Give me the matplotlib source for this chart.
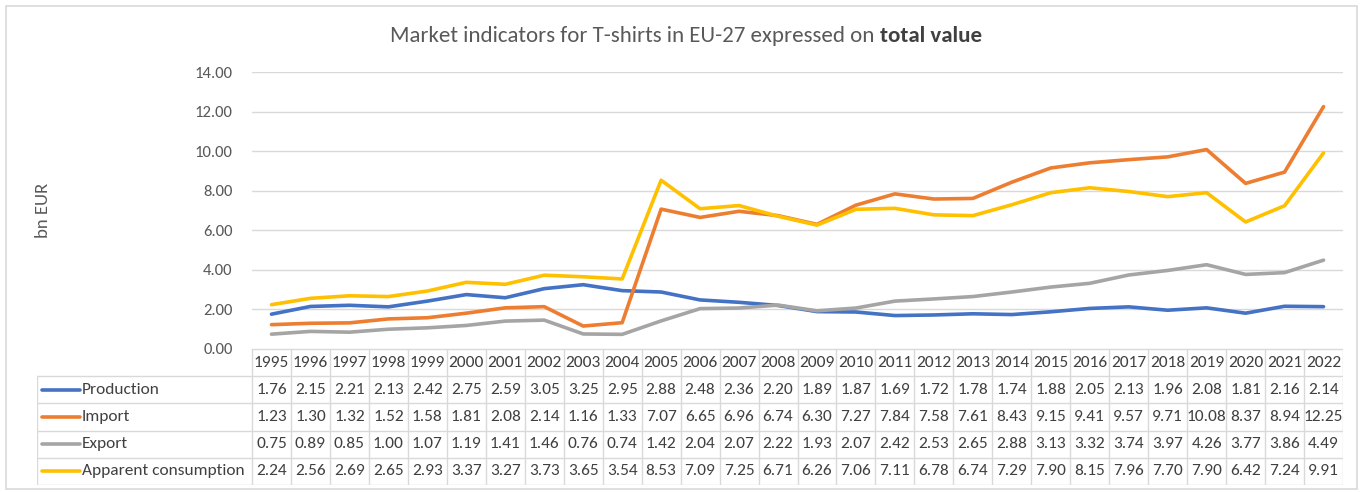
import matplotlib
matplotlib.use("Agg")
import matplotlib.pyplot as plt
from matplotlib.patches import Rectangle

plt.rcParams['font.family'] = ['Carlito', 'Liberation Sans Narrow', 'DejaVu Sans']

# Data (bn EUR).
years = [str(y) for y in range(1995, 2023)]
production = [1.76, 2.15, 2.21, 2.13, 2.42, 2.75, 2.59, 3.05, 3.25, 2.95, 2.88, 2.48, 2.36, 2.20,
              1.89, 1.87, 1.69, 1.72, 1.78, 1.74, 1.88, 2.05, 2.13, 1.96, 2.08, 1.81, 2.16, 2.14]
imports = [1.23, 1.30, 1.32, 1.52, 1.58, 1.81, 2.08, 2.14, 1.16, 1.33, 7.07, 6.65, 6.96, 6.74,
           6.30, 7.27, 7.84, 7.58, 7.61, 8.43, 9.15, 9.41, 9.57, 9.71, 10.08, 8.37, 8.94, 12.25]
exports = [0.75, 0.89, 0.85, 1.00, 1.07, 1.19, 1.41, 1.46, 0.76, 0.74, 1.42, 2.04, 2.07, 2.22,
           1.93, 2.07, 2.42, 2.53, 2.65, 2.88, 3.13, 3.32, 3.74, 3.97, 4.26, 3.77, 3.86, 4.49]
consumption = [2.24, 2.56, 2.69, 2.65, 2.93, 3.37, 3.27, 3.73, 3.65, 3.54, 8.53, 7.09, 7.25, 6.71,
               6.26, 7.06, 7.11, 6.78, 6.74, 7.29, 7.90, 8.15, 7.96, 7.70, 7.90, 6.42, 7.24, 9.91]

series_names = ["Production", "Import", "Export", "Apparent consumption"]
series_data = [production, imports, exports, consumption]
colors = ["#4472C4", "#ED7D31", "#A5A5A5", "#FFC000"]

W, H = 1360, 492
fig = plt.figure(figsize=(W / 100, H / 100), dpi=100)
txt = "#595959"
dark = "#404040"
grid = "#D9D9D9"

# outer chart frame
fig.patches.append(Rectangle((6 / W, 3 / H), 1351 / W, 483 / H, transform=fig.transFigure,
                             fill=False, edgecolor=grid, linewidth=1.2))

# main plot area
x0, x1 = 252, 1343
y_top, y_bot = 72, 349
ax = fig.add_axes([x0 / W, 1 - y_bot / H, (x1 - x0) / W, (y_bot - y_top) / H])
x = list(range(len(years)))
for name, vals, c in zip(series_names, series_data, colors):
    ax.plot(x, vals, color=c, linewidth=2.6, solid_capstyle='round', solid_joinstyle='round')
ax.set_xlim(-0.5, len(years) - 0.5)
ax.set_ylim(0, 14)
ax.set_yticks(range(0, 15, 2))
ax.set_yticklabels([f"{v:.2f}" for v in range(0, 15, 2)])
ax.tick_params(axis='y', length=0, pad=14, labelsize=12, labelcolor=txt)
ax.set_xticks([])
ax.grid(axis='y', color=grid, linewidth=1)
ax.set_axisbelow(True)
for s in ax.spines.values():
    s.set_visible(False)

fig.text(43 / W, 1 - 210 / H, "bn EUR", rotation=90, ha='center', va='center',
         fontsize=13.5, color=txt)

# title: normal part followed by bold part
t1 = fig.text(390 / W, 1 - 42 / H, "Market indicators for T-shirts in EU-27 expressed on ",
              fontsize=16.5, color=txt, ha='left', va='baseline')
ax.annotate("total value", xy=(1, 0), xycoords=t1, ha='left', va='bottom',
            fontsize=16.5, color=dark, fontweight='bold', annotation_clip=False)

# data table below the plot
tl = 37
colw = (x1 - x0) / len(years)
ncol_left = (x0 - tl) / colw
tax = fig.add_axes([tl / W, 1 - 485 / H, (x1 - tl) / W, (485 - y_bot) / H])
tax.set_xlim(-0.5 - ncol_left, len(years) - 0.5)
tax.set_ylim(5, 0)
tax.axis('off')
xl = -0.5 - ncol_left
xr = len(years) - 0.5
for b in range(len(years) + 1):
    tax.plot([b - 0.5, b - 0.5], [0, 5], color=grid, linewidth=1)
tax.plot([xl, xl], [1, 5], color=grid, linewidth=1)
for r in range(1, 6):
    tax.plot([xl, xr], [r, r], color=grid, linewidth=1)
tax.plot([-0.5, xr], [0, 0], color=grid, linewidth=1)

fs = 12.5
for i, yv in enumerate(years):
    tax.text(i, 0.5, yv, ha='center', va='center', fontsize=fs, color=dark)
key_len = 38 / colw
kx = xl + 5 / colw
for r, (name, vals, c) in enumerate(zip(series_names, series_data, colors), start=1):
    tax.plot([kx, kx + key_len], [r + 0.5, r + 0.5], color=c, linewidth=2.6,
             solid_capstyle='round')
    tax.text(kx + key_len + 0.05, r + 0.5, name, ha='left', va='center', fontsize=fs,
             color=dark)
    for i, v in enumerate(vals):
        tax.text(i, r + 0.5, f"{v:.2f}", ha='center', va='center', fontsize=fs, color=dark)

fig.savefig("out.png", dpi=100)
